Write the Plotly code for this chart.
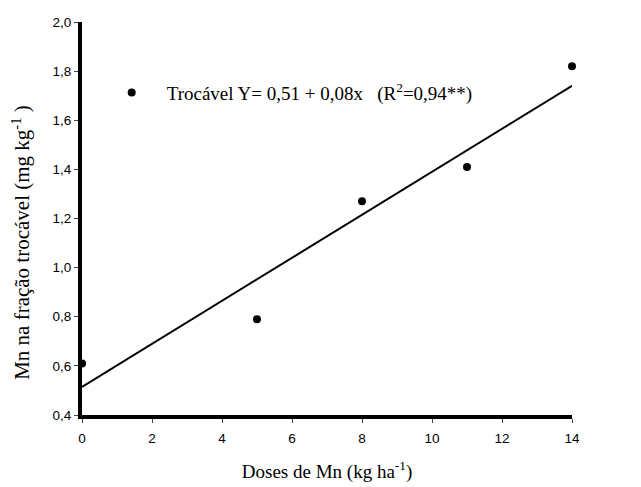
import numpy as np
import plotly.graph_objects as go

doses = [0, 5, 8, 11, 14]
mn_trocavel = [0.61, 0.79, 1.27, 1.41, 1.82]
x_ticks = [0, 2, 4, 6, 8, 10, 12, 14]
y_ticks = [0.4, 0.6, 0.8, 1.0, 1.2, 1.4, 1.6, 1.8, 2.0]
series_name = "Trocável Y= 0,51 + 0,08x&nbsp;&nbsp;&nbsp;(R<sup>2</sup>=0,94**)"
x_title = "Doses de Mn (kg ha<sup>-1</sup>)"
y_title = "Mn na fração trocável (mg kg<sup>-1</sup> )"

slope, intercept = np.polyfit(doses, mn_trocavel, 1)
x_fit = [min(doses), max(doses)]
y_fit = [intercept + slope * v for v in x_fit]

serif = "Liberation Serif, Times New Roman"
fig = go.Figure()
fig.add_trace(go.Scatter(x=x_fit, y=y_fit, mode="lines",
                         line=dict(color="black", width=2),
                         showlegend=False, cliponaxis=False))
fig.add_trace(go.Scatter(x=doses, y=mn_trocavel, mode="markers",
                         marker=dict(color="black", size=8),
                         name=series_name, cliponaxis=False))

fig.add_annotation(text=y_title, xref="paper", yref="paper",
                   x=-0.125, y=0.44, xanchor="center", yanchor="middle",
                   textangle=-90, showarrow=False,
                   font=dict(family=serif, size=21))

fig.update_layout(
    width=641, height=487,
    margin=dict(l=82, r=69, t=22, b=72),
    paper_bgcolor="white", plot_bgcolor="white",
    separators=",.",
    font=dict(family="Liberation Sans, Arial", size=13.5, color="black"),
    legend=dict(x=0.03, y=0.82, xanchor="left", yanchor="middle",
                itemwidth=60,
                bgcolor="rgba(0,0,0,0)",
                font=dict(family=serif, size=19)),
    xaxis=dict(range=[0, 14], tickvals=x_ticks, showgrid=False, zeroline=False,
               showline=True, linecolor="black", linewidth=4,
               ticks="outside", ticklen=4, tickcolor="#444", tickwidth=1,
               ticklabelstandoff=4, automargin=False,
               title=dict(text=x_title,
                          font=dict(family=serif, size=19),
                          standoff=20)),
    yaxis=dict(range=[0.4, 2.0], tickvals=y_ticks, tickformat=".1f",
               showgrid=False, zeroline=False, automargin=False,
               showline=True, linecolor="black", linewidth=4,
               ticks="outside", ticklen=4, tickcolor="#444", tickwidth=1),
)

fig.write_html("out.html")
